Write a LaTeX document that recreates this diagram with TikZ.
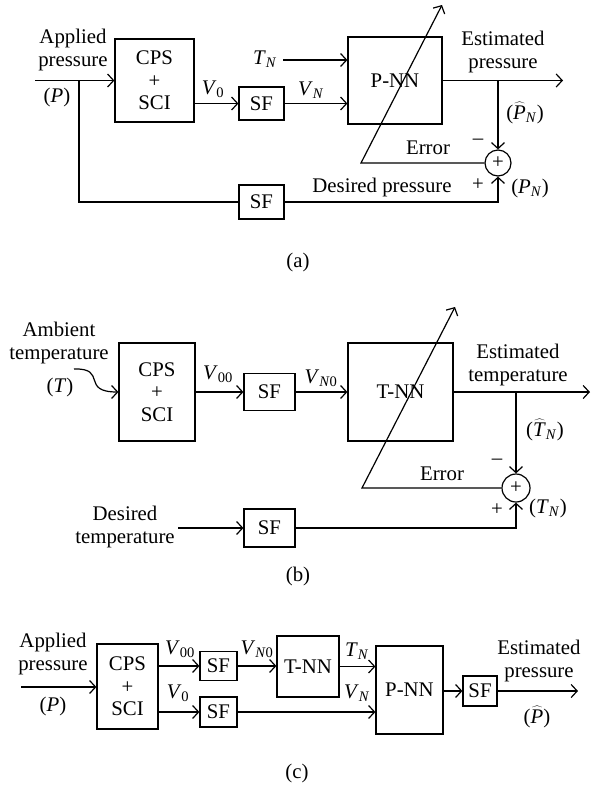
\documentclass[tikz,border=0pt]{standalone}
\usepackage{fontspec}
\setmainfont{Liberation Serif}
\usetikzlibrary{arrows.meta}
\newcommand\hatit[1]{$\widehat{\mbox{\textit{#1}}}$}
\newcommand\sub[2]{\textit{#1}\textsubscript{#2}}
\begin{document}
\begin{tikzpicture}[x=1pt,y=-1pt,
  every node/.append style={font=\fontsize{20.8}{22.5}\selectfont, inner sep=0pt},
  ln/.style={line width=1.2pt},
  arr/.style={ln, -{Straight Barb[length=6pt,width=13pt]}},
  blk/.style={draw, line width=1.2pt, align=center},
  sumc/.style={draw, line width=1.2pt, circle, inner sep=0pt},
  lbl/.style={align=center, font=\fontsize{20.8}{23.5}\selectfont}]
\useasboundingbox (0,0) rectangle (596,788);
% ---------------- (a)
\node[blk, minimum width=79pt, minimum height=83pt] (cpsA) at (154.5,80.5) {CPS\\+\\SCI};
\node[blk, minimum width=45pt, minimum height=33pt] (sfA1) at (261.5,103.5) {SF};
\node[blk, minimum width=45pt, minimum height=34pt] (sfA2) at (261.5,202) {SF};
\node[blk, minimum width=94pt, minimum height=87pt] (pnnA) at (395,80.5) {P-NN};
\node[sumc, minimum size=26pt] (sumA) at (498,163) {+};
\coordinate (inA) at (35,80.5);
\coordinate (brA) at (79,80.5);
\coordinate (tnA) at (283,60);
\coordinate (outA) at (563,80.5);
\coordinate (bA) at (498,80.5);
\coordinate (errA) at (361,163);
\coordinate (tipA) at (442,5);
\draw[arr] (inA) -- (cpsA.west);
\draw[ln] (brA) |- (sfA2.west);
\draw[arr] (cpsA.east |- sfA1.west) -- (sfA1.west);
\draw[arr] (tnA) -- (tnA -| pnnA.west);
\draw[arr] (sfA1.east) -- (sfA1.east -| pnnA.west);
\draw[arr] (pnnA.east) -- (outA);
\draw[arr] (bA) -- (sumA.north);
\draw[arr] (sumA.west) -- (errA) -- (tipA);
\draw[arr] (sfA2.east) -| (sumA.south);
\node[lbl] (tA1) at (73,50) {Applied\\pressure};
\node (tA2) at (57,97) {(\textit{P})};
\node (tA3) at (213,89) {\sub{V}{0}};
\node (tA4) at (265,59) {\sub{T}{\textit{N}}};
\node (tA5) at (311,90) {\sub{V}{\textit{N}}};
\node[lbl] (tA6) at (503,52) {Estimated\\pressure};
\node (tA7) at (525,113) {(\hatit{P}\textsubscript{\textit{N}})};
\node (tA8) at (478,142) {\textendash};
\node (tA9) at (428,148) {Error};
\node (tA10) at (478,185) {+};
\node (tA11) at (530,188) {(\sub{P}{\textit{N}})};
\node (tA12) at (382,187) {Desired pressure};
\node (tA13) at (298,262) {(a)};
% ---------------- (b)
\node[blk, minimum width=76pt, minimum height=98pt] (cpsB) at (157,392) {CPS\\+\\SCI};
\node[blk, minimum width=51pt, minimum height=37pt] (sfB1) at (269.5,392) {SF};
\node[blk, minimum width=51pt, minimum height=38pt] (sfB2) at (269.5,528) {SF};
\node[blk, minimum width=105pt, minimum height=98pt] (tnnB) at (400.5,392) {T-NN};
\node[sumc, minimum size=28pt] (sumB) at (516,488) {+};
\coordinate (inB) at (74,369);
\coordinate (outB) at (590,392);
\coordinate (bB) at (516,392);
\coordinate (errB) at (362,488);
\coordinate (tipB) at (455,307);
\coordinate (dtB) at (178,528);
\draw[arr] (inB) .. controls (108,368) and (80,392) .. (cpsB.west);
\draw[arr] (cpsB.east) -- (sfB1.west);
\draw[arr] (sfB1.east) -- (tnnB.west);
\draw[arr] (tnnB.east) -- (outB);
\draw[arr] (bB) -- (sumB.north);
\draw[arr] (sumB.west) -- (errB) -- (tipB);
\draw[arr] (dtB) -- (sfB2.west);
\draw[arr] (sfB2.east) -| (sumB.south);
\node[lbl] (tB1) at (59,343) {Ambient\\temperature};
\node (tB2) at (60,387) {(\textit{T})};
\node (tB3) at (218,374) {\sub{V}{00}};
\node (tB4) at (321,378) {\sub{V}{\textit{N}0}};
\node[lbl] (tB5) at (518,365) {Estimated\\temperature};
\node (tB6) at (545,430) {(\hatit{T}\textsubscript{\textit{N}})};
\node (tB7) at (497,462) {\textendash};
\node (tB8) at (442,474) {Error};
\node (tB9) at (497,510) {+};
\node (tB10) at (548,508) {(\sub{T}{\textit{N}})};
\node[lbl] (tB11) at (125,527) {Desired\\temperature};
\node (tB12) at (298,576) {(b)};
% ---------------- (c)
\node[blk, minimum width=61pt, minimum height=85pt] (cpsC) at (127.5,686.5) {CPS\\+\\SCI};
\node[blk, minimum width=37pt, minimum height=29pt] (sfC1) at (218.5,666) {SF};
\node[blk, minimum width=37pt, minimum height=30pt] (sfC2) at (218.5,712) {SF};
\node[blk, minimum width=62pt, minimum height=61pt] (tnnC) at (308,666.5) {T-NN};
\node[blk, minimum width=67pt, minimum height=88pt] (pnnC) at (409.5,690) {P-NN};
\node[blk, minimum width=34pt, minimum height=30pt] (sfC3) at (480,691) {SF};
\coordinate (inC) at (21,687);
\coordinate (outC) at (578,691);
\draw[arr] (inC) -- (inC -| cpsC.west);
\draw[arr] (cpsC.east |- sfC1.west) -- (sfC1.west);
\draw[arr] (cpsC.east |- sfC2.west) -- (sfC2.west);
\draw[arr] (sfC1.east) -- (sfC1.east -| tnnC.west);
\draw[arr] (tnnC.east) -- (tnnC.east -| pnnC.west);
\draw[arr] (sfC2.east) -- (sfC2.east -| pnnC.west);
\draw[arr] (pnnC.east |- sfC3.west) -- (sfC3.west);
\draw[arr] (sfC3.east) -- (outC);
\node[lbl] (tC1) at (53,654) {Applied\\pressure};
\node (tC2) at (53,706) {(\textit{P})};
\node (tC3) at (180,649) {\sub{V}{00}};
\node (tC4) at (178,693) {\sub{V}{0}};
\node (tC5) at (257,649) {\sub{V}{\textit{N}0}};
\node (tC6) at (357,651) {\sub{T}{\textit{N}}};
\node (tC7) at (357,693) {\sub{V}{\textit{N}}};
\node[lbl] (tC8) at (539,661) {Estimated\\pressure};
\node (tC9) at (537,717) {(\hatit{P})};
\node (tC10) at (297,773) {(c)};
\end{tikzpicture}
\end{document}
